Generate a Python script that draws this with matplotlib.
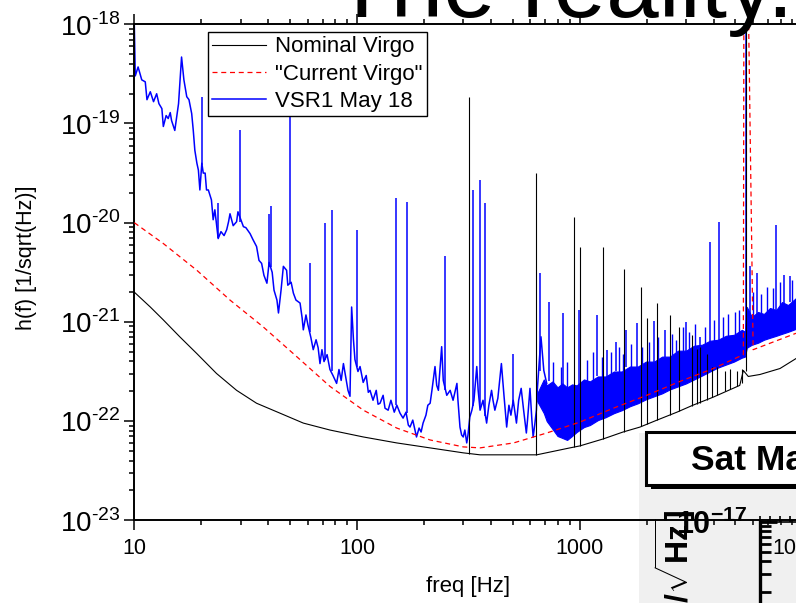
import numpy as np
import matplotlib
matplotlib.use('Agg')
import matplotlib.pyplot as plt
from matplotlib import ticker
from matplotlib.patches import Rectangle

plt.rcParams['font.family'] = ['Liberation Sans', 'DejaVu Sans']
plt.rcParams['mathtext.fontset'] = 'custom'
plt.rcParams['mathtext.rm'] = 'Liberation Sans'
plt.rcParams['mathtext.bf'] = 'Liberation Sans:bold'
plt.rcParams['axes.unicode_minus'] = False

# Nominal Virgo sensitivity (freq in Hz, log10 of h)
nominal_f = [10, 11.8, 13.5, 16.0, 19.1, 23.4, 28.8, 35.4, 45.1, 57.4, 75.6, 106.8,
             150.8, 212.8, 300, 357, 641, 904, 1002, 1274, 1565, 1866, 2224, 2733,
             3222, 3962, 5233, 5430, 5715, 6450, 7930, 9354]
nominal_logh = [-20.70, -20.85, -20.98, -21.15, -21.32, -21.52, -21.69, -21.82, -21.92,
                -22.02, -22.09, -22.16, -22.22, -22.27, -22.32, -22.34, -22.34, -22.27,
                -22.25, -22.18, -22.11, -22.06, -21.99, -21.91, -21.84, -21.76, -21.64,
                -21.49, -21.55, -21.53, -21.47, -21.37]
# narrow resonances of the nominal curve
nominal_line_f = [318, 634, 946, 1002, 1268, 1580, 1891, 2000, 2220, 2543, 2792, 3185,
                  3350, 3467, 3716, 3915, 4122, 4491, 4728, 5067, 5341, 5560]
nominal_line_top = [-18.73, -19.50, -19.94, -20.24, -20.24, -20.47, -20.65, -20.96,
                    -20.81, -20.93, -21.05, -21.13, -21.27, -21.25, -21.32, -21.45,
                    -21.45, -21.49, -21.47, -21.50, -21.47, -17.0]
nominal_line_foot = [-22.33, -22.34, -22.26, -22.25, -22.18, -22.11, -22.05, -22.03,
                     -21.99, -21.94, -21.90, -21.85, -21.83, -21.82, -21.79, -21.76,
                     -21.74, -21.70, -21.68, -21.65, -21.62, -21.50]

# "Current Virgo"
current_f = [10, 13.5, 19.1, 26.9, 37.9, 53.6, 75.6, 106.8, 150.8, 212.8, 300, 357,
             505, 711, 1002, 1416, 2000, 2820, 3980, 5430, 5467, 5657, 6010, 9354]
current_logh = [-20.0, -20.21, -20.48, -20.78, -21.05, -21.35, -21.65, -21.89, -22.07,
                -22.19, -22.26, -22.27, -22.22, -22.12, -22.01, -21.87, -21.74, -21.60,
                -21.47, -21.33, -17.0, -17.0, -21.28, -21.115]

# VSR1 May 18 measured spectrum, low frequency part
vsr1_f = [10.0, 10.1, 10.4, 10.8, 11.2, 11.4, 11.8, 12.2, 12.6, 12.9, 13.3, 13.5, 13.9,
          14.2, 14.5, 14.7, 15.2, 15.8, 16.3, 16.7, 17.2, 17.6, 18.1, 18.4, 18.7, 19.1,
          19.4, 19.7, 20.1, 20.4, 20.8, 21.1, 21.5, 22.2, 22.6, 23.0, 23.8, 24.5, 25.3,
          26.0, 26.5, 26.9, 27.8, 28.8, 29.2, 30.9, 31.7, 33.1, 34.1, 35.4, 36.3, 37.3,
          38.2, 39.4, 40.3, 41.6, 42.4, 43.7, 44.4, 45.6, 46.7, 48.3, 48.9, 50.6, 51.8,
          53.2, 55.5, 56.7, 57.4, 59.0, 60.2, 62.1, 63.6, 65.5, 66.9, 68.2, 69.6, 71.1,
          73.4, 75.6, 78.0, 81.0, 83.0, 84.9, 86.9, 89.2, 91.1, 93.0, 94.6, 96.4, 97.9,
          101, 103.2, 106.6, 110, 112.4, 114.4, 118, 122, 124.3, 126.9, 131, 133.6, 138,
          142, 147, 151, 156, 161, 166, 170, 173, 178, 185, 190, 194, 198, 204, 208, 213,
          217, 224, 228, 232, 240, 244, 253, 262, 270, 281, 284, 290, 295, 300, 305, 311,
          315, 321, 328, 335, 345, 350, 357, 368, 382, 391, 402, 408, 416, 429, 445, 457,
          470, 481, 491, 503, 520, 532, 546, 560, 576, 583, 598, 610, 618, 628, 639, 645,
          670, 690, 711]
vsr1_logh = [-18.0, -18.52, -18.43, -18.56, -18.58, -18.76, -18.68, -18.78, -18.70, -18.80,
             -18.85, -19.03, -18.92, -18.95, -18.89, -18.97, -19.07, -18.80, -18.33, -18.56,
             -18.73, -18.76, -18.90, -19.07, -19.27, -19.40, -19.47, -19.67, -19.40, -19.50,
             -19.50, -19.67, -19.67, -19.77, -19.97, -19.87, -20.16, -20.09, -20.13, -20.07,
             -19.99, -19.91, -20.03, -19.99, -19.89, -20.04, -20.05, -20.11, -20.17, -20.24,
             -20.38, -20.41, -20.53, -20.61, -20.40, -20.50, -20.68, -20.78, -20.91, -20.68,
             -20.44, -20.48, -20.63, -20.60, -20.71, -20.78, -20.81, -20.96, -21.08, -20.93,
             -21.03, -21.16, -21.28, -21.18, -21.26, -21.42, -21.28, -21.40, -21.33, -21.48,
             -21.54, -21.62, -21.48, -21.59, -21.42, -21.57, -21.69, -21.75, -20.85, -21.18,
             -21.38, -21.50, -21.45, -21.61, -21.54, -21.71, -21.69, -21.79, -21.69, -21.83,
             -21.82, -21.74, -21.87, -21.89, -21.79, -21.91, -21.84, -21.92, -21.97, -21.91,
             -22.04, -22.06, -21.99, -22.16, -22.07, -22.11, -22.02, -21.94, -21.84, -21.82,
             -21.69, -21.45, -21.64, -21.69, -21.25, -21.59, -21.74, -21.69, -21.79, -21.62,
             -21.79, -22.06, -22.14, -22.16, -22.09, -22.22, -22.14, -21.96, -21.89, -21.79,
             -21.45, -21.69, -21.89, -21.79, -22.02, -21.84, -21.69, -21.79, -21.89, -21.77,
             -21.42, -21.74, -22.06, -21.84, -21.94, -21.79, -22.02, -21.79, -21.67, -21.89,
             -22.12, -21.99, -21.67, -21.99, -22.16, -22.04, -21.89, -21.69, -21.15, -21.49,
             -21.62]
# VSR1 above ~650 Hz: dense noise drawn as a band (lower / upper edge)
band_f = [645, 690, 711, 755, 795, 836, 878, 924, 969, 1045, 1111, 1207, 1310, 1424, 1546,
          1681, 1826, 1985, 2158, 2345, 2542, 2763, 3003, 3263, 3546, 3845, 4180, 4540,
          4930, 5350, 5520, 5630, 5930, 6320, 6720, 7150, 7630, 8100, 8620, 9354]
band_lo = [-21.80, -21.92, -22.00, -22.08, -22.15, -22.17, -22.19, -22.15, -22.11, -22.06,
           -22.04, -21.99, -21.96, -21.92, -21.89, -21.85, -21.82, -21.78, -21.75, -21.72,
           -21.68, -21.65, -21.62, -21.58, -21.54, -21.50, -21.46, -21.43, -21.40, -21.36,
           -21.35, -21.26, -21.23, -21.21, -21.18, -21.16, -21.14, -21.12, -21.10, -21.07]
band_hi = [-21.72, -21.58, -21.64, -21.60, -21.66, -21.62, -21.66, -21.63, -21.64, -21.58,
           -21.60, -21.55, -21.55, -21.50, -21.50, -21.45, -21.45, -21.40, -21.40, -21.35,
           -21.35, -21.29, -21.29, -21.24, -21.23, -21.19, -21.18, -21.14, -21.13, -21.08,
           -21.10, -20.85, -20.95, -20.90, -20.92, -20.86, -20.88, -20.80, -20.83, -20.76]
# VSR1 lines
vsr1_line_f = [20.1, 23.8, 29.8, 40.3, 40.9, 50.0, 61.5, 71.8, 77.2, 99.7, 150, 167, 248,
               333, 357, 375, 503, 663, 730, 842, 995, 1198, 1330, 1460, 1620, 1800, 2150,
               2420, 3000, 3467, 3845, 4240, 5560, 5816, 6240, 7630, 8300, 8800]
vsr1_line_top = [-18.73, -19.80, -19.07, -19.91, -19.83, -18.3, -20.41, -20.00, -19.87,
                 -20.07, -19.75, -19.79, -20.34, -19.67, -19.57, -19.80, -21.32, -20.51,
                 -20.80, -20.91, -20.88, -20.93, -21.28, -21.20, -21.08, -21.01, -20.99,
                 -21.08, -21.00, -21.15, -20.19, -19.99, -17.0, -20.44, -20.51, -20.02,
                 -20.53, -20.54]
vsr1_line_foot = [-19.42, -20.15, -19.99, -20.45, -20.45, -20.62, -21.10, -21.38, -21.50,
                  -21.45, -21.84, -21.92, -21.69, -21.85, -21.85, -21.95, -21.85, -21.50,
                  -21.60, -21.65, -21.65, -21.55, -21.60, -21.50, -21.45, -21.45, -21.40,
                  -21.35, -21.30, -21.25, -21.20, -21.20, -21.20, -21.00, -20.95, -20.90,
                  -20.85, -20.80]
# short noise peaks sticking out of the dense band
tuft_f = [760, 820, 880, 1080, 1150, 1260, 1380, 1500, 1560, 1700, 1900, 2050, 2250, 2600,
          2700, 2900, 3100, 3300, 3650, 4000, 4400, 4650, 5000, 5200, 6000, 6500, 6900,
          7400, 7900, 9000]
tuft_top = [-21.40, -21.45, -21.40, -21.38, -21.30, -21.35, -21.30, -21.25, -21.32, -21.22,
            -21.25, -21.20, -21.15, -21.12, -21.18, -21.05, -21.10, -21.02, -21.05, -20.98,
            -20.95, -20.92, -20.90, -20.88, -20.70, -20.72, -20.65, -20.66, -20.60, -20.58]
tuft_foot = [-21.70, -21.74, -21.76, -21.69, -21.68, -21.65, -21.62, -21.60, -21.60, -21.55,
             -21.53, -21.50, -21.48, -21.43, -21.40, -21.39, -21.37, -21.34, -21.32, -21.29,
             -21.26, -21.24, -21.22, -21.20, -21.03, -21.01, -21.00, -20.97, -20.95, -20.90]

W, H = 796, 603
fig = plt.figure(figsize=(W / 100, H / 100), dpi=100)

# grey panel of the slide behind the plot (lower right corner)
fig.add_artist(Rectangle((639 / W, 0), 200 / W, (H - 433) / H, transform=fig.transFigure,
                         facecolor='#f0f0f0', edgecolor='none', zorder=-2))
fig.add_artist(Rectangle((651 / W, 1 - 489 / H), 200 / W, 53 / H, transform=fig.transFigure,
                         facecolor='black', edgecolor='none', zorder=-1.5))
fig.add_artist(Rectangle((646 / W, 1 - 485 / H), 200 / W, 53 / H, transform=fig.transFigure,
                         facecolor='white', edgecolor='black', linewidth=2.2, zorder=-1.4))
fig.text(691 / W, 1 - 470 / H, 'Sat May 19', fontsize=25.5, fontweight='bold',
         va='baseline', ha='left', zorder=-1.3)

ax = fig.add_axes([134.3 / W, (H - 520.3) / H, (802.4 - 134.3) / W, (520.3 - 24.3) / H])
ax.patch.set_visible(False)

nom = ax.plot(nominal_f, 10 ** np.array(nominal_logh), color='black', lw=0.8,
              label='Nominal Virgo', zorder=3)[0]
ax.vlines(nominal_line_f, 10 ** np.array(nominal_line_foot), 10 ** np.array(nominal_line_top),
          color='black', lw=0.8, zorder=3)

cur = ax.plot(current_f, 10 ** np.array(current_logh), color='#ff0000', lw=0.9,
              linestyle=(0, (4, 3)), label='"Current Virgo"', zorder=4)[0]

vsr = ax.plot(vsr1_f, 10 ** np.array(vsr1_logh), color='#0000ff', lw=1.1,
              label='VSR1 May 18', zorder=2)[0]
ax.fill_between(band_f, 10 ** np.array(band_lo), 10 ** np.array(band_hi),
                color='#0000ff', lw=0.8, zorder=2)
ax.vlines(vsr1_line_f, 10 ** np.array(vsr1_line_foot), 10 ** np.array(vsr1_line_top),
          color='#0000ff', lw=1.1, zorder=2)
ax.vlines(tuft_f, 10 ** np.array(tuft_foot), 10 ** np.array(tuft_top),
          color='#0000ff', lw=1.0, zorder=2)

ax.set_xscale('log')
ax.set_yscale('log')
ax.set_xlim(10, 10000)
ax.set_ylim(1e-23, 1e-18)

ax.xaxis.set_major_formatter(ticker.FuncFormatter(lambda v, p: '%g' % v))
ax.yaxis.set_major_formatter(ticker.FuncFormatter(
    lambda v, p: r'$10^{\text{-%d}}$' % round(-np.log10(v))))
ax.xaxis.set_minor_formatter(ticker.NullFormatter())
ax.yaxis.set_minor_formatter(ticker.NullFormatter())
ax.tick_params(which='both', direction='out', top=True, right=False, width=1.1)
ax.tick_params(which='major', length=7)
ax.tick_params(which='minor', length=3.5)
ax.tick_params(axis='x', labelsize=15.5, pad=6)
ax.tick_params(axis='y', labelsize=20, pad=3)
for s in ax.spines.values():
    s.set_linewidth(1.4)
ax.spines['right'].set_visible(False)

ax.set_xlabel('freq [Hz]', fontsize=16)
ax.set_ylabel('h(f) [1/sqrt(Hz)]', fontsize=15.5)
ax.xaxis.set_label_coords(0.5, -0.112)
ax.yaxis.set_label_coords(-0.1457, 0.529)

leg = ax.legend(handles=[nom, cur, vsr], loc='upper left', fontsize=16,
                bbox_to_anchor=(208 / W, 1 - 32 / H), bbox_transform=fig.transFigure,
                borderaxespad=0, borderpad=0.2, handlelength=2.4, handletextpad=0.4,
                labelspacing=0.28, fancybox=False, framealpha=1, edgecolor='black')
leg.get_frame().set_linewidth(1.0)
leg.set_zorder(6)

# piece of a second plot from the slide
ins = fig.add_axes([760 / W, (H - 721.7) / H, 200 / W, 200 / H], zorder=0.5)
ins.patch.set_visible(False)
ins.set_yscale('log')
ins.set_ylim(1e-19, 1e-17)
ins.set_xlim(0, 20)
ins.spines['right'].set_visible(False)
ins.spines['bottom'].set_visible(False)
ins.spines['left'].set_linewidth(2.4)
ins.spines['top'].set_linewidth(1.2)
ins.yaxis.set_major_locator(ticker.FixedLocator([1e-17]))
ins.yaxis.set_major_formatter(ticker.FixedFormatter([r'$\mathbf{10^{-17}}$']))
ins.yaxis.set_minor_formatter(ticker.NullFormatter())
ins.tick_params(axis='y', which='both', direction='in', width=2, labelsize=22, pad=9)
ins.tick_params(axis='y', which='major', length=12)
ins.tick_params(axis='y', which='minor', length=8)
ins.xaxis.set_ticks_position('top')
ins.xaxis.set_major_locator(ticker.MultipleLocator(1))
ins.tick_params(axis='x', direction='out', length=4, width=1.2, labeltop=False,
                labelbottom=False)
fig.text(675 / W, 1 - 510 / H, r'$\mathbf{h\ [1/}\sqrt{\mathbf{Hz}}\mathbf{]}$', rotation=90,
         ha='center', va='top', fontsize=23, zorder=0.6)

fig.text(333 / W, 1 - 17 / H, 'The reality...', fontsize=68, va='baseline', ha='left',
         zorder=10)

fig.savefig('out.png', dpi=100)
